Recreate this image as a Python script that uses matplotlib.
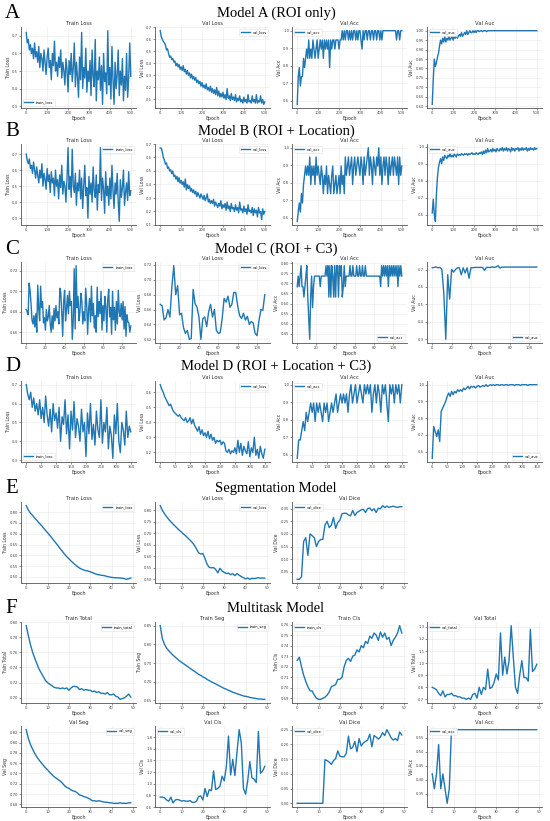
import numpy as np
import matplotlib
matplotlib.use("Agg")
import matplotlib.pyplot as plt

W, H = 550, 821
LINE = "#1f77b4"

# ---------------- Model A (ROI only), 500 epochs ----------------
a_train_loss = [0.72, 0.66, 0.68, 0.62, 0.65, 0.60, 0.63, 0.57, 0.66, 0.58,
                0.61, 0.55, 0.64, 0.52, 0.60, 0.57, 0.50, 0.62, 0.55, 0.48,
                0.58, 0.63, 0.52, 0.56, 0.45, 0.60, 0.53, 0.67, 0.50, 0.55,
                0.47, 0.58, 0.52, 0.62, 0.46, 0.55, 0.50, 0.42, 0.57, 0.51,
                0.38, 0.56, 0.48, 0.60, 0.44, 0.52, 0.66, 0.41, 0.55, 0.47,
                0.35, 0.58, 0.45, 0.72, 0.40, 0.52, 0.46, 0.63, 0.38, 0.50,
                0.44, 0.56, 0.36, 0.62, 0.47, 0.41, 0.68, 0.33, 0.50, 0.45,
                0.58, 0.39, 0.53, 0.31, 0.60, 0.44, 0.49, 0.37, 0.73, 0.42,
                0.52, 0.34, 0.64, 0.45, 0.31, 0.55, 0.40, 0.48, 0.62, 0.36,
                0.50, 0.42, 0.57, 0.33, 0.47, 0.39, 0.60, 0.35, 0.46, 0.66,
                0.47]
a_val_loss = [0.67, 0.62, 0.60, 0.58, 0.57, 0.55, 0.51, 0.52, 0.48, 0.45,
              0.46, 0.43, 0.44, 0.41, 0.42, 0.38, 0.40, 0.37, 0.39, 0.35,
              0.37, 0.34, 0.38, 0.33, 0.35, 0.31, 0.34, 0.30, 0.32, 0.28,
              0.31, 0.27, 0.29, 0.26, 0.28, 0.24, 0.26, 0.23, 0.25, 0.21,
              0.24, 0.20, 0.22, 0.19, 0.23, 0.18, 0.20, 0.17, 0.21, 0.16,
              0.19, 0.15, 0.18, 0.14, 0.20, 0.13, 0.17, 0.12, 0.15, 0.12,
              0.16, 0.11, 0.14, 0.10, 0.19, 0.11, 0.13, 0.09, 0.15, 0.10,
              0.12, 0.09, 0.14, 0.08, 0.11, 0.09, 0.13, 0.08, 0.10, 0.07,
              0.12, 0.08, 0.10, 0.07, 0.14, 0.08, 0.09, 0.07, 0.13, 0.08,
              0.10, 0.07, 0.14, 0.07, 0.09, 0.08, 0.13, 0.07, 0.10, 0.06,
              0.08]
a_val_acc = [0.579, 0.737, 0.789, 0.684, 0.737, 0.737, 0.842, 0.789, 0.842, 0.895,
             0.842, 0.947, 0.842, 0.895, 0.842, 0.947, 0.895, 0.842, 0.895, 0.947,
             0.842, 0.895, 0.947, 0.895, 0.947, 0.842, 0.947, 0.895, 0.947, 0.895,
             0.947, 0.789, 0.947, 0.895, 0.947, 0.947, 0.895, 0.947, 0.947, 0.947,
             0.895, 0.947, 0.947, 1.0, 0.947, 1.0, 0.947, 1.0, 1.0, 0.947,
             1.0, 0.947, 1.0, 0.947, 1.0, 1.0, 0.947, 1.0, 0.947, 1.0,
             1.0, 0.947, 0.895, 1.0, 0.947, 1.0, 1.0, 0.947, 1.0, 1.0,
             0.947, 1.0, 1.0, 0.947, 1.0, 1.0, 0.947, 1.0, 1.0, 0.947,
             1.0, 0.947, 1.0, 1.0, 1.0, 1.0, 1.0, 1.0, 1.0, 1.0,
             1.0, 1.0, 1.0, 1.0, 1.0, 0.947, 1.0, 1.0, 0.947, 1.0,
             1.0]
a_val_auc = [0.61, 0.74, 0.85, 0.81, 0.83, 0.86, 0.88, 0.92, 0.95, 0.93,
             0.96, 0.94, 0.97, 0.94, 0.96, 0.95, 0.97, 0.95, 0.96, 0.97,
             0.95, 0.97, 0.96, 0.98, 0.96, 0.97, 0.98, 0.97, 0.99, 0.97,
             0.98, 0.99, 0.98, 1.0, 0.98, 0.99, 1.0, 0.99, 0.99, 1.0,
             0.99, 1.0, 0.99, 1.0, 1.0, 0.995, 1.0, 1.0, 0.995, 1.0,
             1.0, 1.0, 0.995, 1.0, 1.0, 1.0, 1.0, 1.0, 1.0, 1.0,
             1.0, 1.0, 1.0, 1.0, 1.0, 1.0, 1.0, 1.0, 1.0, 1.0,
             1.0, 1.0, 1.0, 1.0, 1.0, 1.0, 1.0, 1.0, 1.0, 1.0,
             1.0, 1.0, 1.0, 1.0, 1.0, 1.0, 1.0, 1.0, 1.0, 1.0,
             1.0, 1.0, 1.0, 1.0, 1.0, 1.0, 1.0, 1.0, 1.0, 1.0,
             1.0]

# ---------------- Model B (ROI + Location), 500 epochs ----------------
b_train_loss = [0.70, 0.66, 0.64, 0.67, 0.61, 0.63, 0.58, 0.65, 0.60, 0.55,
                0.62, 0.57, 0.52, 0.60, 0.55, 0.64, 0.50, 0.58, 0.54, 0.48,
                0.61, 0.53, 0.57, 0.46, 0.59, 0.52, 0.55, 0.44, 0.60, 0.50,
                0.54, 0.42, 0.57, 0.49, 0.63, 0.45, 0.53, 0.50, 0.40, 0.55,
                0.74, 0.48, 0.56, 0.43, 0.73, 0.50, 0.46, 0.58, 0.38, 0.52,
                0.47, 0.60, 0.42, 0.55, 0.36, 0.50, 0.63, 0.44, 0.49, 0.30,
                0.56, 0.45, 0.52, 0.40, 0.62, 0.47, 0.43, 0.57, 0.35, 0.51,
                0.46, 0.74, 0.41, 0.55, 0.48, 0.33, 0.59, 0.44, 0.50, 0.38,
                0.55, 0.42, 0.63, 0.47, 0.36, 0.52, 0.45, 0.58, 0.40, 0.28,
                0.54, 0.43, 0.49, 0.60, 0.38, 0.46, 0.52, 0.41, 0.59, 0.44,
                0.47]
b_val_loss = [0.67, 0.67, 0.64, 0.60, 0.58, 0.55, 0.56, 0.52, 0.53, 0.50,
              0.51, 0.48, 0.50, 0.46, 0.47, 0.44, 0.46, 0.42, 0.45, 0.41,
              0.43, 0.40, 0.42, 0.38, 0.44, 0.36, 0.40, 0.37, 0.39, 0.35,
              0.37, 0.34, 0.36, 0.33, 0.35, 0.31, 0.34, 0.32, 0.30, 0.33,
              0.31, 0.29, 0.32, 0.28, 0.30, 0.33, 0.27, 0.29, 0.26, 0.28,
              0.26, 0.29, 0.24, 0.27, 0.25, 0.23, 0.26, 0.24, 0.28, 0.22,
              0.25, 0.23, 0.26, 0.21, 0.27, 0.22, 0.24, 0.20, 0.26, 0.22,
              0.23, 0.20, 0.25, 0.21, 0.23, 0.19, 0.27, 0.21, 0.22, 0.19,
              0.24, 0.20, 0.22, 0.18, 0.25, 0.20, 0.21, 0.19, 0.23, 0.17,
              0.22, 0.19, 0.21, 0.16, 0.23, 0.19, 0.20, 0.14, 0.22, 0.18,
              0.20]
b_val_acc = [0.579, 0.632, 0.684, 0.632, 0.737, 0.684, 0.789, 0.842, 0.895, 0.842,
             0.895, 0.842, 0.947, 0.789, 0.895, 0.842, 0.895, 0.789, 0.947, 0.842,
             0.895, 0.842, 0.789, 0.895, 0.842, 0.737, 0.842, 0.789, 0.895, 0.737,
             0.842, 0.789, 0.737, 0.842, 0.895, 0.737, 0.789, 0.842, 0.737, 0.789,
             0.842, 0.737, 0.895, 0.789, 0.842, 0.737, 0.947, 0.842, 0.895, 0.947,
             0.842, 0.895, 0.947, 0.789, 0.895, 0.947, 0.842, 0.895, 0.947, 0.895,
             0.842, 0.947, 0.895, 0.789, 0.947, 0.842, 0.895, 0.947, 1.0, 0.842,
             0.947, 0.895, 0.789, 0.947, 0.895, 0.842, 0.947, 0.895, 1.0, 0.842,
             0.947, 0.789, 0.895, 0.947, 0.842, 0.947, 0.895, 0.789, 0.947, 0.842,
             0.895, 0.947, 0.842, 0.947, 0.895, 0.842, 0.947, 0.789, 0.947, 0.842,
             0.895]
b_val_auc = [0.61, 0.69, 0.60, 0.56, 0.72, 0.82, 0.88, 0.91, 0.93, 0.90,
             0.94, 0.92, 0.95, 0.94, 0.93, 0.95, 0.94, 0.96, 0.94, 0.95,
             0.94, 0.96, 0.95, 0.94, 0.96, 0.95, 0.955, 0.95, 0.96, 0.955,
             0.95, 0.96, 0.955, 0.96, 0.95, 0.96, 0.955, 0.96, 0.965, 0.955,
             0.96, 0.955, 0.965, 0.96, 0.955, 0.965, 0.96, 0.97, 0.955, 0.975,
             0.96, 0.98, 0.965, 0.99, 0.97, 0.975, 0.985, 0.97, 0.99, 0.975,
             0.985, 0.97, 0.99, 0.98, 0.975, 0.99, 0.98, 0.995, 0.975, 0.99,
             0.98, 0.995, 0.975, 0.99, 0.985, 0.97, 0.995, 0.98, 0.99, 0.975,
             0.99, 0.985, 0.995, 0.975, 0.99, 0.98, 0.995, 0.98, 0.99, 0.985,
             0.995, 0.975, 0.99, 0.98, 0.995, 0.985, 0.99, 0.98, 0.995, 0.985,
             0.99]

# ---------------- Model C (ROI + C3), ~110 epochs ----------------
c_train_loss = [0.682, 0.680, 0.677, 0.708, 0.701, 0.688, 0.672, 0.668, 0.676, 0.665,
                0.678, 0.660, 0.706, 0.683, 0.671, 0.705, 0.684, 0.690, 0.669, 0.674,
                0.662, 0.682, 0.671, 0.675, 0.686, 0.668, 0.660, 0.676, 0.663, 0.683,
                0.671, 0.686, 0.674, 0.680, 0.668, 0.703, 0.699, 0.680, 0.656, 0.689,
                0.701, 0.671, 0.683, 0.696, 0.678, 0.700, 0.686, 0.690, 0.653, 0.671,
                0.722, 0.663, 0.725, 0.684, 0.695, 0.671, 0.680, 0.698, 0.690, 0.668,
                0.680, 0.671, 0.703, 0.688, 0.658, 0.682, 0.693, 0.670, 0.705, 0.676,
                0.688, 0.664, 0.676, 0.660, 0.704, 0.675, 0.690, 0.678, 0.700, 0.662,
                0.686, 0.671, 0.695, 0.685, 0.660, 0.692, 0.702, 0.675, 0.684, 0.658,
                0.700, 0.672, 0.684, 0.662, 0.690, 0.668, 0.701, 0.680, 0.675, 0.688,
                0.672, 0.690, 0.663, 0.685, 0.656, 0.677, 0.670, 0.669, 0.660, 0.666]
c_val_loss = [0.667, 0.665, 0.646, 0.649, 0.660, 0.650, 0.690, 0.719, 0.680, 0.692,
              0.653, 0.655, 0.636, 0.628, 0.632, 0.620, 0.621, 0.687, 0.668, 0.663,
              0.650, 0.620, 0.648, 0.650, 0.637, 0.657, 0.667, 0.650, 0.660, 0.632,
              0.628, 0.629, 0.648, 0.675, 0.670, 0.678, 0.663, 0.667, 0.683, 0.683,
              0.665, 0.652, 0.648, 0.655, 0.646, 0.651, 0.640, 0.644, 0.642, 0.628,
              0.625, 0.645, 0.660, 0.659, 0.680]
c_val_acc = [0.684, 0.737, 0.684, 0.737, 0.789, 0.684, 0.684, 0.632, 0.684, 0.737,
             0.789, 0.632, 0.526, 0.421, 0.632, 0.737, 0.579, 0.684, 0.737, 0.737,
             0.737, 0.737, 0.737, 0.737, 0.684, 0.737, 0.737, 0.737, 0.737, 0.737,
             0.789, 0.737, 0.789, 0.632, 0.789, 0.632, 0.789, 0.737, 0.632, 0.789,
             0.632, 0.789, 0.789, 0.632, 0.789, 0.737, 0.789, 0.632, 0.684, 0.789,
             0.684, 0.737, 0.737, 0.737, 0.737, 0.789, 0.737, 0.737, 0.789, 0.737,
             0.737, 0.737, 0.789, 0.737, 0.737, 0.789, 0.737, 0.737, 0.789, 0.737,
             0.737, 0.789, 0.737, 0.737, 0.737, 0.737, 0.737, 0.737, 0.737, 0.737,
             0.737, 0.737, 0.737, 0.737, 0.737, 0.737, 0.737, 0.684, 0.789, 0.737,
             0.789, 0.737, 0.789, 0.737, 0.789, 0.684, 0.789, 0.737, 0.789, 0.737,
             0.789, 0.737, 0.789, 0.737, 0.789, 0.684, 0.789, 0.737, 0.789, 0.737]
c_val_auc = [0.710, 0.712, 0.715, 0.710, 0.712, 0.700, 0.560, 0.300, 0.670, 0.530,
             0.700, 0.685, 0.700, 0.710, 0.710, 0.670, 0.710, 0.680, 0.710, 0.650,
             0.710, 0.710, 0.712, 0.712, 0.712, 0.712, 0.712, 0.695, 0.712, 0.712,
             0.712, 0.715, 0.712, 0.715, 0.722, 0.708, 0.714, 0.714, 0.714, 0.714,
             0.714, 0.714, 0.714, 0.714, 0.714, 0.714, 0.714, 0.714, 0.714, 0.714,
             0.714, 0.714, 0.714, 0.714, 0.714]

# ---------------- Model D (ROI + Location + C3), 350 epochs ----------------
d_train_loss = [0.70, 0.65, 0.62, 0.66, 0.58, 0.63, 0.56, 0.60, 0.54, 0.62,
                0.52, 0.58, 0.50, 0.64, 0.54, 0.48, 0.57, 0.45, 0.60, 0.51,
                0.55, 0.47, 0.58, 0.40, 0.53, 0.49, 0.62, 0.44, 0.54, 0.36,
                0.56, 0.46, 0.61, 0.42, 0.52, 0.48, 0.40, 0.57, 0.45, 0.50,
                0.32, 0.55, 0.44, 0.60, 0.41, 0.49, 0.38, 0.56, 0.46, 0.42,
                0.62, 0.39, 0.50, 0.45, 0.58, 0.36, 0.48, 0.43, 0.31, 0.54,
                0.44, 0.60, 0.40, 0.34, 0.50, 0.46, 0.38, 0.56, 0.42, 0.48,
                0.45]
d_val_loss = [0.65, 0.62, 0.60, 0.57, 0.55, 0.53, 0.51, 0.52, 0.49, 0.47,
              0.46, 0.45, 0.44, 0.45, 0.43, 0.42, 0.41, 0.43, 0.40, 0.41,
              0.43, 0.39, 0.42, 0.38, 0.36, 0.34, 0.37, 0.32, 0.35, 0.31,
              0.33, 0.30, 0.34, 0.29, 0.32, 0.28, 0.30, 0.26, 0.28, 0.27,
              0.28, 0.25, 0.27, 0.26, 0.21, 0.20, 0.22, 0.19, 0.21, 0.20,
              0.23, 0.19, 0.28, 0.20, 0.26, 0.18, 0.24, 0.21, 0.19, 0.27,
              0.17, 0.23, 0.20, 0.30, 0.18, 0.22, 0.16, 0.24, 0.19, 0.16,
              0.22]
d_val_acc = [0.579, 0.684, 0.684, 0.737, 0.789, 0.737, 0.842, 0.789, 0.842, 0.895,
             0.842, 0.895, 0.789, 0.895, 0.842, 0.895, 0.842, 0.789, 0.895, 0.842,
             0.895, 0.789, 0.842, 0.895, 0.842, 0.895, 0.947, 0.842, 0.895, 0.947,
             0.895, 0.947, 0.895, 0.947, 0.842, 0.947, 1.0, 0.895, 0.947, 1.0,
             0.895, 0.947, 1.0, 0.947, 0.895, 1.0, 0.947, 1.0, 0.947, 1.0,
             0.842, 0.947, 1.0, 0.895, 1.0, 0.947, 0.842, 1.0, 0.947, 1.0,
             0.895, 0.789, 1.0, 0.947, 1.0, 0.895, 1.0, 0.947, 1.0, 0.895,
             1.0]
d_val_auc = [0.56, 0.75, 0.72, 0.69, 0.73, 0.66, 0.84, 0.86, 0.88, 0.90,
             0.93, 0.95, 0.93, 0.96, 0.94, 0.96, 0.95, 0.97, 0.96, 0.97,
             0.96, 0.98, 0.97, 0.98, 0.99, 0.975, 0.99, 0.985, 0.99, 0.98,
             0.99, 0.995, 0.985, 0.99, 0.995, 0.99, 1.0, 0.99, 0.995, 1.0,
             0.995, 1.0, 0.995, 1.0, 1.0, 0.995, 1.0, 1.0, 0.995, 1.0,
             1.0, 0.995, 1.0, 1.0, 1.0, 0.995, 1.0, 1.0, 1.0, 0.995,
             1.0, 1.0, 1.0, 1.0, 0.995, 1.0, 1.0, 1.0, 1.0, 1.0,
             1.0]

# ---------------- Segmentation model, 50 epochs ----------------
e_train_loss = [0.830, 0.810, 0.795, 0.785, 0.772, 0.762, 0.750, 0.740, 0.728, 0.716,
                0.705, 0.693, 0.681, 0.668, 0.656, 0.643, 0.630, 0.618, 0.605, 0.594,
                0.584, 0.574, 0.565, 0.556, 0.548, 0.541, 0.536, 0.532, 0.529, 0.527,
                0.524, 0.520, 0.516, 0.512, 0.510, 0.508, 0.507, 0.505, 0.502, 0.500,
                0.498, 0.497, 0.496, 0.496, 0.495, 0.494, 0.492, 0.489, 0.492, 0.495]
e_val_loss = [0.820, 0.800, 0.785, 0.772, 0.760, 0.750, 0.740, 0.731, 0.722, 0.713,
              0.705, 0.696, 0.688, 0.679, 0.670, 0.660, 0.648, 0.632, 0.615, 0.610,
              0.612, 0.590, 0.565, 0.552, 0.550, 0.551, 0.543, 0.528, 0.548, 0.536,
              0.530, 0.525, 0.527, 0.520, 0.524, 0.516, 0.525, 0.518, 0.512, 0.507,
              0.502, 0.506, 0.500, 0.505, 0.503, 0.505, 0.507, 0.505, 0.506, 0.505]
e_val_dice = [0.020, 0.020, 0.030, 0.170, 0.185, 0.115, 0.200, 0.193, 0.185, 0.150,
              0.170, 0.178, 0.178, 0.235, 0.250, 0.225, 0.235, 0.265, 0.222, 0.245,
              0.255, 0.280, 0.282, 0.282, 0.275, 0.272, 0.293, 0.273, 0.285, 0.290,
              0.295, 0.298, 0.285, 0.300, 0.303, 0.292, 0.300, 0.285, 0.302, 0.300,
              0.312, 0.305, 0.310, 0.305, 0.308, 0.310, 0.307, 0.305, 0.308, 0.308]

# ---------------- Multitask model, 50 epochs ----------------
f_train_total = [0.795, 0.782, 0.770, 0.760, 0.752, 0.745, 0.738, 0.733, 0.728, 0.723,
                 0.720, 0.718, 0.716, 0.714, 0.713, 0.713, 0.712, 0.713, 0.712, 0.713,
                 0.710, 0.713, 0.715, 0.715, 0.714, 0.711, 0.712, 0.710, 0.711, 0.710,
                 0.710, 0.708, 0.709, 0.707, 0.708, 0.706, 0.706, 0.705, 0.707, 0.704,
                 0.704, 0.705, 0.702, 0.701, 0.698, 0.699, 0.700, 0.702, 0.705, 0.701]
f_train_seg = [0.850, 0.815, 0.800, 0.790, 0.783, 0.777, 0.771, 0.766, 0.761, 0.756,
               0.752, 0.748, 0.744, 0.740, 0.736, 0.732, 0.728, 0.724, 0.720, 0.717,
               0.713, 0.710, 0.706, 0.703, 0.700, 0.697, 0.694, 0.691, 0.688, 0.685,
               0.682, 0.680, 0.677, 0.675, 0.672, 0.670, 0.668, 0.666, 0.664, 0.662,
               0.661, 0.660, 0.658, 0.657, 0.656, 0.655, 0.654, 0.654, 0.653, 0.653]
f_train_cls = [0.726, 0.729, 0.720, 0.712, 0.706, 0.701, 0.697, 0.697, 0.693, 0.690,
               0.689, 0.689, 0.690, 0.691, 0.693, 0.696, 0.701, 0.702, 0.703, 0.708,
               0.708, 0.710, 0.720, 0.726, 0.728, 0.725, 0.730, 0.731, 0.736, 0.734,
               0.740, 0.738, 0.744, 0.742, 0.749, 0.747, 0.752, 0.750, 0.745, 0.753,
               0.748, 0.752, 0.746, 0.748, 0.740, 0.745, 0.748, 0.752, 0.759, 0.752]
f_val_total = [0.80, 0.79, 0.78, 0.75, 0.73, 0.77, 0.72, 0.74, 0.74, 0.75,
               0.73, 0.73, 0.72, 0.72, 0.71, 0.71, 0.70, 0.71, 0.70, 0.74,
               0.75, 0.71, 0.80, 0.74, 0.80, 0.78, 0.95, 0.79, 0.80, 0.84,
               0.91, 0.86, 1.25, 0.90, 1.05, 0.91, 1.02, 1.31, 1.05, 0.80,
               0.75, 0.90, 1.02, 0.88, 0.88, 0.85, 1.28, 0.93, 0.95, 0.99]
f_val_seg = [0.825, 0.808, 0.796, 0.787, 0.779, 0.772, 0.766, 0.761, 0.756, 0.751,
             0.747, 0.742, 0.738, 0.734, 0.731, 0.728, 0.725, 0.721, 0.716, 0.713,
             0.711, 0.708, 0.706, 0.705, 0.702, 0.698, 0.697, 0.695, 0.694, 0.692,
             0.690, 0.687, 0.687, 0.686, 0.687, 0.686, 0.685, 0.684, 0.684, 0.683,
             0.683, 0.682, 0.682, 0.682, 0.683, 0.682, 0.682, 0.682, 0.683, 0.683]
f_val_cls = [0.77, 0.77, 0.76, 0.72, 0.70, 0.77, 0.67, 0.72, 0.73, 0.72,
             0.70, 0.71, 0.70, 0.70, 0.71, 0.68, 0.68, 0.70, 0.78, 0.79,
             0.72, 0.92, 0.78, 0.90, 0.88, 1.22, 0.90, 0.92, 0.96, 1.13,
             1.05, 1.30, 1.82, 1.15, 1.42, 1.14, 1.55, 1.93, 1.70, 0.92,
             0.82, 1.05, 1.38, 1.10, 1.08, 1.02, 1.90, 1.18, 1.22, 1.30]
f_val_dice = [0.0, 0.0, 0.0, 0.0, 0.0, 0.0, 0.0, 0.0, 0.0, 0.0,
              0.0, 0.0, 0.0, 0.148, 0.145, 0.140, 0.132, 0.145, 0.152, 0.178,
              0.160, 0.158, 0.158, 0.170, 0.228, 0.185, 0.190, 0.210, 0.175, 0.220,
              0.195, 0.205, 0.210, 0.215, 0.235, 0.192, 0.230, 0.225, 0.218, 0.225,
              0.240, 0.230, 0.250, 0.237, 0.222, 0.215, 0.220, 0.213, 0.242, 0.232]
f_val_acc = [0.421, 0.368, 0.421, 0.526, 0.368, 0.421, 0.368, 0.316, 0.368, 0.579,
             0.579, 0.579, 0.579, 0.579, 0.579, 0.579, 0.579, 0.579, 0.579, 0.579,
             0.579, 0.579, 0.579, 0.579, 0.579, 0.579, 0.579, 0.579, 0.579, 0.579,
             0.579, 0.579, 0.579, 0.579, 0.579, 0.579, 0.579, 0.579, 0.579, 0.579,
             0.579, 0.579, 0.579, 0.579, 0.579, 0.579, 0.579, 0.579, 0.579, 0.579]

# tick labels
ticks_500 = [0, 100, 200, 300, 400, 500]
ticks_350 = [0, 50, 100, 150, 200, 250, 300, 350]
ticks_110 = [0, 20, 40, 60, 80, 100]
ticks_50 = [0, 10, 20, 30, 40, 50]

COLS = [21, 155, 292, 427]
PANEL_W, PANEL_H = 115, 81


def add_panel(fig, col, top, values, last_epoch, name, key, legend_loc, xticks, yticks):
  ax = fig.add_axes([COLS[col] / W, 1 - (top + PANEL_H) / H, PANEL_W / W, PANEL_H / H])
  epochs = np.linspace(0, last_epoch, len(values))
  ax.plot(epochs, values, color=LINE, lw=1.0, label=key)
  ax.set_title(name, fontsize=3.8, pad=1.5, color="#333333")
  ax.set_xlabel("Epoch", fontsize=3.4, labelpad=0.8, color="#333333")
  ax.set_ylabel(name, fontsize=3.3, labelpad=1.0, color="#333333")
  ax.set_xticks(xticks)
  ax.set_yticks(yticks)
  lo, hi = ax.get_ylim()
  ax.set_ylim(lo, hi)
  ax.tick_params(labelsize=2.7, length=1.3, width=0.4, pad=0.8, colors="#444444")
  for side in ("top", "right"):
    ax.spines[side].set_visible(False)
  for side in ("left", "bottom"):
    ax.spines[side].set_linewidth(0.6)
    ax.spines[side].set_color("#555555")
  ax.grid(True, color="#e8e8e8", lw=0.4)
  ax.set_axisbelow(True)
  ax.legend(loc=legend_loc, fontsize=2.6, handlelength=2.5, borderpad=0.4,
            frameon=True, framealpha=0.9, edgecolor="#dddddd", fancybox=True)
  ax.get_legend().get_frame().set_linewidth(0.4)
  return ax


def row_header(fig, letter, title, y):
  fig.text(5 / W, 1 - y / H, letter, fontsize=15, family="Liberation Serif", va="center", ha="left")
  fig.text(276 / W, 1 - y / H, title, fontsize=10.5, family="Liberation Serif", va="center", ha="center")


fig = plt.figure(figsize=(W / 100, H / 100), dpi=100)

row_header(fig, "A", "Model A (ROI only)", 13)
add_panel(fig, 0, 27, a_train_loss, 500, "Train Loss", "train_loss", "lower left", ticks_500, [0.3, 0.4, 0.5, 0.6, 0.7])
add_panel(fig, 1, 27, a_val_loss, 500, "Val Loss", "val_loss", "upper right", ticks_500, [0.1, 0.2, 0.3, 0.4, 0.5, 0.6, 0.7])
add_panel(fig, 2, 27, a_val_acc, 500, "Val Acc", "val_acc", "upper left", ticks_500, [0.6, 0.7, 0.8, 0.9, 1.0])
add_panel(fig, 3, 27, a_val_auc, 500, "Val Auc", "val_auc", "upper left", ticks_500,
          [0.60, 0.65, 0.70, 0.75, 0.80, 0.85, 0.90, 0.95, 1.00])

row_header(fig, "B", "Model B (ROI + Location)", 131)
add_panel(fig, 0, 144, b_train_loss, 500, "Train Loss", "train_loss", "upper right", ticks_500, [0.3, 0.4, 0.5, 0.6, 0.7])
add_panel(fig, 1, 144, b_val_loss, 500, "Val Loss", "val_loss", "upper right", ticks_500, [0.1, 0.2, 0.3, 0.4, 0.5, 0.6, 0.7])
add_panel(fig, 2, 144, b_val_acc, 500, "Val Acc", "val_acc", "upper left", ticks_500, [0.6, 0.7, 0.8, 0.9, 1.0])
add_panel(fig, 3, 144, b_val_auc, 500, "Val Auc", "val_auc", "upper left", ticks_500, [0.6, 0.7, 0.8, 0.9, 1.0])

row_header(fig, "C", "Model C (ROI + C3)", 249)
add_panel(fig, 0, 262, c_train_loss, 109, "Train Loss", "train_loss", "upper right", ticks_110, [0.66, 0.68, 0.70, 0.72])
add_panel(fig, 1, 262, c_val_loss, 108, "Val Loss", "val_loss", "upper right", ticks_110, [0.62, 0.64, 0.66, 0.68, 0.70, 0.72])
add_panel(fig, 2, 262, c_val_acc, 109, "Val Acc", "val_acc", "lower right", ticks_110,
          [0.45, 0.50, 0.55, 0.60, 0.65, 0.70, 0.75, 0.80])
add_panel(fig, 3, 262, c_val_auc, 108, "Val Auc", "val_auc", "lower right", ticks_110, [0.3, 0.4, 0.5, 0.6, 0.7])

row_header(fig, "D", "Model D (ROI + Location + C3)", 366)
add_panel(fig, 0, 381, d_train_loss, 350, "Train Loss", "train_loss", "lower left", ticks_350, [0.3, 0.4, 0.5, 0.6, 0.7])
add_panel(fig, 1, 381, d_val_loss, 350, "Val Loss", "val_loss", "upper right", ticks_350, [0.2, 0.3, 0.4, 0.5, 0.6])
add_panel(fig, 2, 381, d_val_acc, 350, "Val Acc", "val_acc", "upper left", ticks_350, [0.6, 0.7, 0.8, 0.9, 1.0])
add_panel(fig, 3, 381, d_val_auc, 350, "Val Auc", "val_auc", "lower right", ticks_350, [0.6, 0.7, 0.8, 0.9, 1.0])

row_header(fig, "E", "Segmentation Model", 488)
add_panel(fig, 0, 502, e_train_loss, 49, "Train Loss", "train_loss", "upper right", ticks_50,
          [0.50, 0.55, 0.60, 0.65, 0.70, 0.75, 0.80])
add_panel(fig, 1, 502, e_val_loss, 49, "Val Loss", "val_loss", "upper right", ticks_50,
          [0.50, 0.55, 0.60, 0.65, 0.70, 0.75, 0.80])
add_panel(fig, 2, 502, e_val_dice, 49, "Val Dice", "val_dice", "upper left", ticks_50,
          [0.05, 0.10, 0.15, 0.20, 0.25, 0.30])

row_header(fig, "F", "Multitask Model", 608)
add_panel(fig, 0, 622, f_train_total, 49, "Train Total", "train_total", "upper right", ticks_50,
          [0.70, 0.72, 0.74, 0.76, 0.78, 0.80])
add_panel(fig, 1, 622, f_train_seg, 49, "Train Seg", "train_seg", "upper right", ticks_50,
          [0.65, 0.70, 0.75, 0.80, 0.85])
add_panel(fig, 2, 622, f_train_cls, 49, "Train Cls", "train_cls", "upper left", ticks_50,
          [0.69, 0.70, 0.71, 0.72, 0.73, 0.74, 0.75, 0.76])
add_panel(fig, 3, 622, f_val_total, 49, "Val Total", "val_total", "upper left", ticks_50,
          [0.7, 0.8, 0.9, 1.0, 1.1, 1.2, 1.3])
add_panel(fig, 0, 726, f_val_seg, 49, "Val Seg", "val_seg", "upper right", ticks_50,
          [0.68, 0.70, 0.72, 0.74, 0.76, 0.78, 0.80, 0.82])
add_panel(fig, 1, 726, f_val_cls, 49, "Val Cls", "val_cls", "upper left", ticks_50,
          [0.6, 0.8, 1.0, 1.2, 1.4, 1.6, 1.8])
add_panel(fig, 2, 726, f_val_dice, 49, "Val Dice", "val_dice", "upper left", ticks_50,
          [0.00, 0.05, 0.10, 0.15, 0.20, 0.25])
add_panel(fig, 3, 726, f_val_acc, 49, "Val Acc", "val_acc", "upper left", ticks_50,
          [0.35, 0.40, 0.45, 0.50, 0.55])

fig.savefig("out.png", dpi=100, facecolor="white")
plt.close()
